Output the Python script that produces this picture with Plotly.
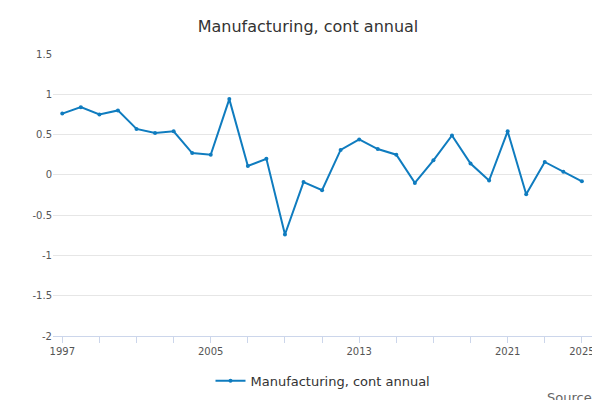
import plotly.graph_objects as go

years = list(range(1997, 2026))
values = [0.76, 0.84, 0.75, 0.80, 0.57, 0.52, 0.54, 0.27, 0.25, 0.94,
          0.11, 0.20, -0.74, -0.09, -0.19, 0.31, 0.44, 0.32, 0.25, -0.10,
          0.18, 0.49, 0.14, -0.07, 0.54, -0.24, 0.16, 0.04, -0.08]
tick_years = list(range(1997, 2026, 2))
tick_labels = [str(y) if y in (1997, 2005, 2013, 2021, 2025) else "" for y in tick_years]

fig = go.Figure(go.Scatter(
    x=years, y=values, mode="lines+markers", name="Manufacturing, cont annual",
    line=dict(color="#0f7cbf", width=2), marker=dict(size=4, color="#0f7cbf"),
))
fig.update_layout(
    width=600, height=400, plot_bgcolor="white", paper_bgcolor="white",
    font=dict(family="DejaVu Sans", color="#555", size=10),
    title=dict(text="Manufacturing, cont annual", x=0.5, y=0.955, yanchor="middle",
               font=dict(size=16, color="#333")),
    margin=dict(l=45, r=15, t=46, b=72),
    showlegend=True,
    legend=dict(orientation="h", x=0.5, xanchor="center", y=-0.159, yanchor="middle",
                font=dict(size=13, color="#333")),
    annotations=[dict(text="Source:", xref="paper", yref="paper", x=1.01, y=-0.218,
                      xanchor="right", yanchor="middle", showarrow=False,
                      font=dict(size=13, color="#666"))],
)
fig.update_xaxes(range=[1996.5, 2025.6], tickvals=tick_years, ticktext=tick_labels,
                 ticks="outside", ticklen=6, tickcolor="#ccd6eb", showgrid=False,
                 showline=True, linecolor="#ccd6eb")
fig.update_yaxes(range=[-2, 1.5], gridcolor="#e6e6e6", zeroline=False,
                 tickvals=[-2, -1.5, -1, -0.5, 0, 0.5, 1, 1.5],
                 ticktext=["-2", "-1.5", "-1", "-0.5", "0", "0.5", "1", "1.5"])
fig.write_html("out.html")
